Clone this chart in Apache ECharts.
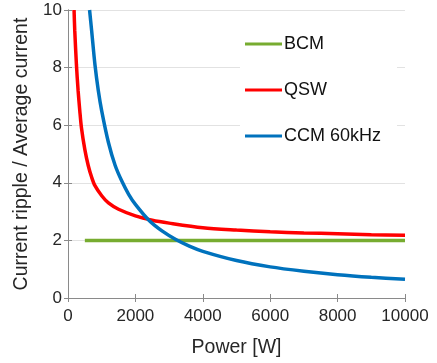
<!DOCTYPE html>
<html>
<head>
<meta charset="utf-8">
<script src="https://cdn.jsdelivr.net/npm/echarts@6/dist/echarts.min.js"></script>
<style>
  html, body { margin: 0; padding: 0; background: #fff; }
  #chart { width: 437px; height: 363px; }
</style>
</head>
<body>
<div id="chart"></div>
<script>
// values
const bcmPower = [500, 10000]
const bcmRatio = [2, 2]

const qswPower = [180, 200, 250, 300, 350, 400, 500, 600, 700, 800, 1000, 1200, 1500, 2000, 2500, 3000, 4000, 5000, 6000, 7000, 8000, 9000, 10000]
const qswRatio = [10.0, 9.3, 8.1, 7.2, 6.5, 5.9, 5.15, 4.6, 4.2, 3.9, 3.55, 3.3, 3.08, 2.85, 2.7, 2.6, 2.44, 2.36, 2.3, 2.26, 2.23, 2.2, 2.18]

const ccmPower = [640, 700, 800, 900, 1000, 1200, 1400, 1600, 1800, 2000, 2400, 2800, 3200, 3600, 4000, 5000, 6000, 7000, 8000, 9000, 10000]
const ccmRatio = [10.0, 9.3, 8.1, 7.2, 6.5, 5.4, 4.6, 4.05, 3.6, 3.25, 2.7, 2.32, 2.03, 1.8, 1.62, 1.3, 1.08, 0.93, 0.81, 0.72, 0.65]

const xTicks = { min: 0, max: 10000, interval: 2000 }
const yTicks = { min: 0, max: 10, interval: 2 }

const font = 'Liberation Sans, Arial, Helvetica, sans-serif'
const axisGray = '#8a8a8a'
const textColor = '#262626'

const pairs = (xs, ys) => xs.map((x, i) => [x, ys[i]])

const chart = echarts.init(document.getElementById('chart'), null, { renderer: 'canvas' })

const boxAxis = {
  axisLine: { show: true, lineStyle: { color: axisGray, width: 1 } },
  axisTick: { show: true, inside: true, length: 4, lineStyle: { color: axisGray } },
  axisLabel: { show: false },
  splitLine: { show: false },
}

const option = {
  animation: false,
  backgroundColor: '#fff',
  grid: { left: 68, right: 32, top: 10, bottom: 65 },
  legend: {
    orient: 'vertical',
    left: 240,
    top: 20,
    padding: [15, 16, 18, 5],
    backgroundColor: '#fff',
    itemWidth: 37,
    itemHeight: 3,
    itemGap: 28,
    icon: 'rect',
    textStyle: { fontFamily: font, fontSize: 18, color: '#111', lineHeight: 18, padding: [0, 0, 0, -3] },
    data: ['BCM', 'QSW', 'CCM 60kHz'],
  },
  xAxis: [
    {
      type: 'value',
      position: 'bottom',
      ...xTicks,
      name: 'Power [W]',
      nameLocation: 'middle',
      nameGap: 40,
      nameTextStyle: { fontFamily: font, fontSize: 19.5, color: textColor },
      axisLine: { show: true, lineStyle: { color: axisGray, width: 1 } },
      axisTick: { show: true, inside: true, length: 4, lineStyle: { color: axisGray } },
      axisLabel: { fontFamily: font, fontSize: 17, color: textColor, margin: 10, formatter: v => String(v) },
      splitLine: { show: false },
    },
    { type: 'value', position: 'top', ...xTicks, ...boxAxis },
  ],
  yAxis: [
    {
      type: 'value',
      position: 'left',
      ...yTicks,
      name: 'Current ripple / Average current',
      nameLocation: 'middle',
      nameGap: 36,
      nameTextStyle: { fontFamily: font, fontSize: 19.5, color: textColor },
      axisLine: { show: true, lineStyle: { color: axisGray, width: 1 } },
      axisTick: { show: true, inside: true, length: 4, lineStyle: { color: axisGray } },
      axisLabel: { fontFamily: font, fontSize: 17, color: textColor, margin: 6 },
      splitLine: { show: true, lineStyle: { color: '#e2e2e2', width: 1 } },
    },
    { type: 'value', position: 'right', ...yTicks, ...boxAxis },
  ],
  series: [
    {
      name: 'BCM',
      type: 'line',
      data: pairs(bcmPower, bcmRatio),
      showSymbol: false,
      lineStyle: { color: '#77AC30', width: 3.5 },
      itemStyle: { color: '#77AC30' },
    },
    {
      name: 'QSW',
      type: 'line',
      data: pairs(qswPower, qswRatio),
      smooth: 0.3,
      showSymbol: false,
      lineStyle: { color: '#FF0000', width: 3.5 },
      itemStyle: { color: '#FF0000' },
    },
    {
      name: 'CCM 60kHz',
      type: 'line',
      data: pairs(ccmPower, ccmRatio),
      smooth: 0.3,
      showSymbol: false,
      lineStyle: { color: '#0072BD', width: 3.5 },
      itemStyle: { color: '#0072BD' },
    },
  ],
}

chart.setOption(option)
</script>
</body>
</html>
